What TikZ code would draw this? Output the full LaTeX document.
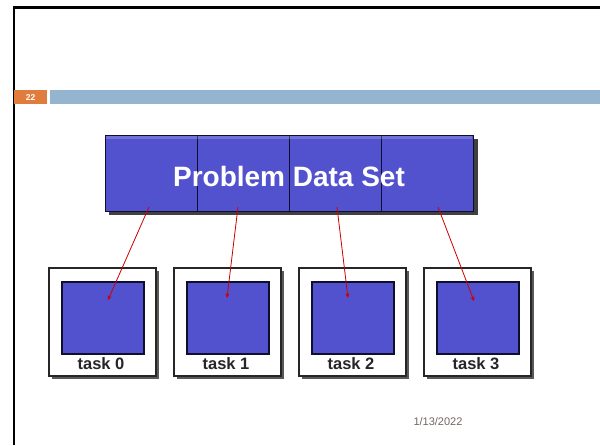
\documentclass[tikz,border=0pt]{standalone}
\usepackage{fontspec}
\setmainfont{Liberation Sans}
\usetikzlibrary{shadows,arrows.meta}
\definecolor{cellblue}{RGB}{82,82,206}
\definecolor{navy}{RGB}{15,15,45}
\definecolor{barblue}{RGB}{148,180,208}
\definecolor{numorange}{RGB}{224,124,60}
\definecolor{dategray}{RGB}{118,100,100}
\tikzset{
  cellbox/.style={draw=navy, line width=1.3pt, fill=cellblue, minimum width=92pt, minimum height=76pt, anchor=north west, inner sep=0pt},
  taskbox/.style={draw=black!85, line width=1.5pt, fill=white, minimum width=107pt, minimum height=108pt, anchor=north west, inner sep=0pt,
    drop shadow={shadow xshift=3.5pt, shadow yshift=-3.5pt, opacity=0.65, fill=black}},
  innerbox/.style={draw=navy, line width=1.5pt, fill=cellblue, minimum width=82pt, minimum height=72pt, anchor=north west, inner sep=0pt},
  tasklabel/.style={font=\fontsize{16.5}{18}\selectfont\bfseries, text=black!85},
  link/.style={draw=red!80!black, line width=0.8pt, -{Stealth[length=4.5pt,width=4pt]}},
}
\begin{document}
\begin{tikzpicture}[x=1pt,y=-1pt]
\useasboundingbox (0,0) rectangle (600,445);
\fill[white] (0,0) rectangle (600,445);
% slide frame
\draw[line width=2.2pt, black] (14,445) -- (14,7.5) -- (600,7.5);
% header bar
\node[fill=numorange, minimum width=33pt, minimum height=14pt, inner sep=0pt, anchor=north west] (num) at (14,90) {};
\node[text=white, font=\fontsize{8.5}{9}\selectfont\bfseries] (numtxt) at (num.center) {22};
\node[fill=barblue, minimum width=550pt, minimum height=14pt, inner sep=0pt, anchor=north west] (bar) at (50,90) {};
% big data set box
\fill[black, opacity=0.75] (109,139) rectangle (478,215);
\node[cellbox] (c0) at (105,135) {};
\node[cellbox] (c1) at (197,135) {};
\node[cellbox] (c2) at (289,135) {};
\node[cellbox] (c3) at (381,135) {};
\fill[white, opacity=0.18] (105.7,135.7) rectangle (472.3,139);
\node[text=white, font=\fontsize{28}{30}\selectfont\bfseries] (title) at (289,176) {Problem Data Set};
% tasks
\foreach \i/\x in {0/48,1/173,2/298,3/423}{
  \node[taskbox] (task\i) at (\x,267) {};
  \node[innerbox] (in\i) at (\x+13,281) {};
  \node[tasklabel] (lbl\i) at (\x+53,364) {task \i};
}
% connectors
\coordinate (s0) at (149,207); \coordinate (e0) at (108,300);
\coordinate (s1) at (238,207); \coordinate (e1) at (227,298);
\coordinate (s2) at (337,207); \coordinate (e2) at (348,298);
\coordinate (s3) at (438,207); \coordinate (e3) at (474,301);
\draw[link] (s0) -- (e0);
\draw[link] (s1) -- (e1);
\draw[link] (s2) -- (e2);
\draw[link] (s3) -- (e3);
% date
\node[text=dategray, font=\fontsize{11}{12}\selectfont] (date) at (438,422) {1/13/2022};
\end{tikzpicture}
\end{document}
